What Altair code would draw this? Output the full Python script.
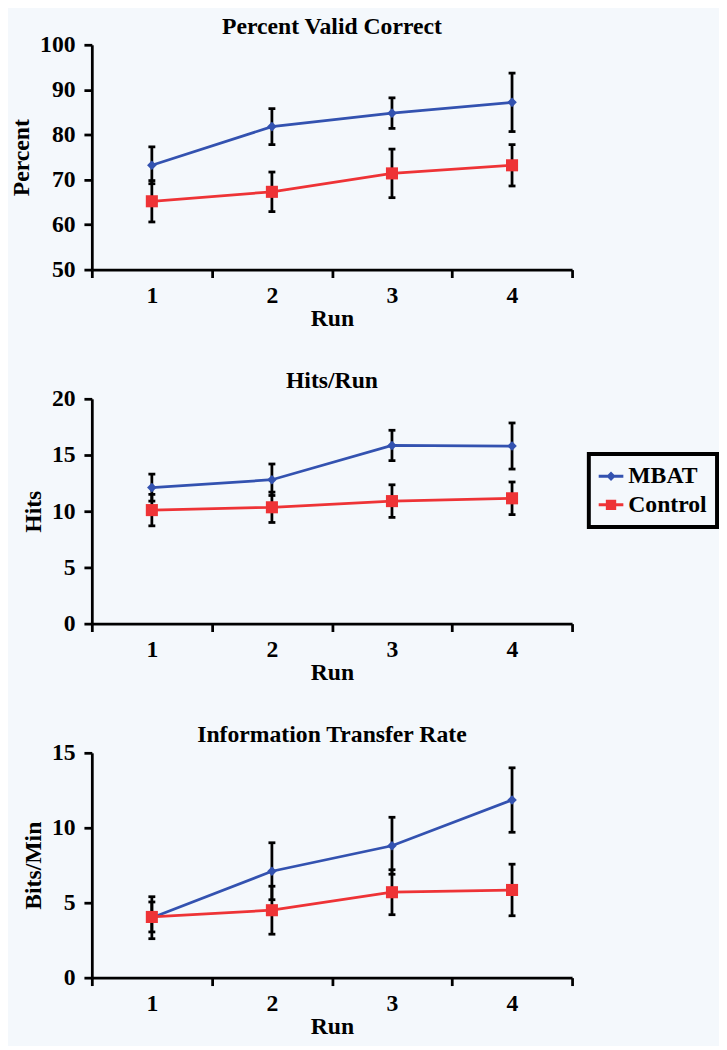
import altair as alt
import pandas as pd

# ---------------- data ----------------
runs = [1, 2, 3, 4]
series_names = ["MBAT", "Control"]

pvc_mbat = [73.2, 81.8, 84.8, 87.2]
pvc_mbat_err = [4.1, 4.0, 3.4, 6.5]
pvc_ctrl = [65.2, 67.3, 71.4, 73.2]
pvc_ctrl_err = [4.6, 4.4, 5.4, 4.6]

hits_mbat = [12.1, 12.8, 15.85, 15.8]
hits_mbat_err = [1.2, 1.4, 1.35, 2.05]
hits_ctrl = [10.1, 10.35, 10.9, 11.15]
hits_ctrl_err = [1.4, 1.35, 1.45, 1.45]

itr_mbat = [4.0, 7.1, 8.8, 11.85]
itr_mbat_err = [1.4, 1.9, 1.9, 2.15]
itr_ctrl = [4.05, 4.5, 5.7, 5.85]
itr_ctrl_err = [1.0, 1.6, 1.5, 1.72]

BG = "#f4f8fc"
BLUE = "#3352b0"
RED = "#ee3336"
FONT = "Liberation Serif"
FS = 24

PATH_MBAT = "M-1,-0.12H1V0.12H-1Z M0,-0.38L0.38,0L0,0.38L-0.38,0Z"
PATH_CTRL = "M-1,-0.12H1V0.12H-1Z M-0.42,-0.42H0.42V0.42H-0.42Z"


def make_df(mbat, mbat_err, ctrl, ctrl_err):
    rows = []
    for name, vals, errs in (("MBAT", mbat, mbat_err), ("Control", ctrl, ctrl_err)):
        for r, v, e in zip(runs, vals, errs):
            rows.append({"run": r, "series": name, "value": v, "lo": v - e, "hi": v + e})
    return pd.DataFrame(rows)


def panel(title, ytitle, domain, step, mbat, mbat_err, ctrl, ctrl_err, with_legend=False):
    df = make_df(mbat, mbat_err, ctrl, ctrl_err)
    ticks = list(range(domain[0], domain[1] + 1, step))
    x = alt.X(
        "run:O",
        scale=alt.Scale(type="band", paddingInner=0, paddingOuter=0),
        axis=alt.Axis(title="Run", labelAngle=0, tickBand="extent", labelPadding=6, titlePadding=0),
    )
    yscale = alt.Scale(domain=domain, nice=False, zero=False)
    y = alt.Y(
        "value:Q",
        scale=yscale,
        axis=alt.Axis(title=ytitle, values=ticks, labelPadding=9, titlePadding=6),
    )
    base = alt.Chart(df)
    m = base.transform_filter(alt.datum.series == "MBAT")
    c = base.transform_filter(alt.datum.series == "Control")

    line_m = m.mark_line(strokeWidth=2.8, color=BLUE).encode(x=x, y=y)
    line_c = c.mark_line(strokeWidth=2.8, color=RED).encode(x=x, y=y)
    rule = base.mark_rule(color="black", strokeWidth=2.8).encode(
        x=x, y=alt.Y("lo:Q", scale=yscale), y2="hi:Q"
    )
    cap_lo = base.mark_tick(color="black", size=7, thickness=2.8, opacity=1).encode(
        x=x, y=alt.Y("lo:Q", scale=yscale)
    )
    cap_hi = base.mark_tick(color="black", size=7, thickness=2.8, opacity=1).encode(
        x=x, y=alt.Y("hi:Q", scale=yscale)
    )
    pts_m = m.mark_point(shape="diamond", filled=True, size=95, opacity=1, color=BLUE).encode(x=x, y=y)
    pts_c = c.mark_square(size=150, opacity=1, color=RED).encode(x=x, y=y)

    layers = [line_m, line_c, rule, cap_lo, cap_hi, pts_m, pts_c]

    if with_legend:
        leg = alt.Legend(
            title=None, orient="none", legendX=504, legendY=56,
            strokeColor="black", fillColor=BG, padding=10,
            labelFont=FONT, labelFontSize=FS, labelFontWeight="bold", labelColor="black",
            symbolSize=625, symbolStrokeWidth=0, labelOffset=5,
        )
        legend_layer = base.transform_filter("false").mark_point(filled=True, opacity=1).encode(
            x=x, y=y,
            color=alt.Color("series:N", scale=alt.Scale(domain=series_names, range=[BLUE, RED]), legend=leg),
            shape=alt.Shape("series:N", scale=alt.Scale(domain=series_names, range=[PATH_MBAT, PATH_CTRL]), legend=leg),
        )
        layers.append(legend_layer)

    return alt.layer(*layers).properties(
        width=487, height=228,
        title=alt.TitleParams(title, font=FONT, fontSize=FS, fontWeight="bold", color="black",
                              anchor="middle", frame="group", offset=-6),
    )


p1 = panel("Percent Valid Correct", "Percent", [50, 100], 10, pvc_mbat, pvc_mbat_err, pvc_ctrl, pvc_ctrl_err)
p2 = panel("Hits/Run", "Hits", [0, 20], 5, hits_mbat, hits_mbat_err, hits_ctrl, hits_ctrl_err, with_legend=True)
p3 = panel("Information Transfer Rate", "Bits/Min", [0, 15], 5, itr_mbat, itr_mbat_err, itr_ctrl, itr_ctrl_err)

chart = alt.vconcat(p1, p2, p3, spacing=39).resolve_scale(
    color="independent", shape="independent"
).resolve_legend(color="independent", shape="independent").properties(
    padding={"left": 2, "top": 0, "right": 0, "bottom": 0}
).configure(background=BG, font=FONT).configure_view(stroke=None).configure_axis(
    grid=False, domainColor="black", domainWidth=2.8, tickColor="black", tickWidth=2.8,
    tickSize=8, labelFont=FONT, labelFontSize=FS, labelFontWeight="bold", labelColor="black",
    titleFont=FONT, titleFontSize=FS, titleFontWeight="bold", titleColor="black",
).configure_legend(strokeWidth=4, rowPadding=4, labelFont=FONT, labelFontWeight="bold",
                   labelFontSize=FS, labelColor="black")

chart.save("out.html", embed_options={"renderer": "svg", "actions": False})
